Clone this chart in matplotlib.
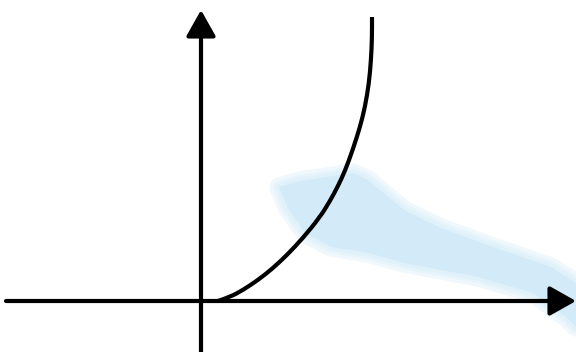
import matplotlib

matplotlib.use("Agg")
import matplotlib.pyplot as plt  # noqa: E402
from matplotlib.path import Path  # noqa: E402
from matplotlib.patches import PathPatch  # noqa: E402

# growth curve, origin at the axis crossing
curve_x = [0.17, 0.29, 0.42, 0.57, 0.71, 0.86, 1.02, 1.19, 1.29, 1.37,
           1.44, 1.52, 1.59, 1.64, 1.68, 1.70, 1.71, 1.71]
curve_y = [0.00, 0.04, 0.11, 0.21, 0.32, 0.46, 0.63, 0.84, 1.00, 1.15,
           1.30, 1.52, 1.74, 1.94, 2.18, 2.41, 2.63, 2.84]

# light blue brush stroke, upper and lower edges
band_top_x = [0.78, 0.99, 1.52, 1.67, 2.03, 2.40, 2.95, 3.50, 3.75]
band_top_y = [1.14, 1.20, 1.28, 1.21, 0.91, 0.73, 0.53, 0.34, 0.18]
band_bot_x = [0.86, 1.04, 1.30, 1.67, 2.03, 2.77, 3.32, 3.65, 3.75]
band_bot_y = [0.94, 0.68, 0.54, 0.48, 0.38, 0.24, 0.08, -0.16, -0.26]

x_range = (-2.01, 3.75)
y_range = (-0.51, 3.01)


def smooth_path(xs, ys):
    # quadratic segments through the midpoints, read points act as controls
    pts = list(zip(xs, ys))
    verts = [pts[0]]
    codes = [Path.MOVETO]
    for i in range(1, len(pts) - 1):
        mid = ((pts[i][0] + pts[i + 1][0]) / 2, (pts[i][1] + pts[i + 1][1]) / 2)
        verts += [pts[i], mid]
        codes += [Path.CURVE3, Path.CURVE3]
    verts.append(pts[-1])
    codes.append(Path.LINETO)
    return Path(verts, codes)


fig = plt.figure(figsize=(5.76, 3.52), dpi=100)
ax = fig.add_axes([0, 0, 1, 1])
ax.set_xlim(*x_range)
ax.set_ylim(*y_range)
ax.axis("off")

# soft-edged stroke: wide faint outlines under a solid fill
poly_x = band_top_x + band_bot_x[::-1]
poly_y = band_top_y + band_bot_y[::-1]
for width in (14, 9, 5):
    ax.fill(poly_x, poly_y, fc="none", ec="#d6edfa", lw=width, alpha=0.35,
            joinstyle="round", zorder=1)
ax.fill(poly_x, poly_y, color="#d3ebf9", lw=0, zorder=1)

arrow = dict(arrowstyle="-|>,head_length=0.8,head_width=0.45", mutation_scale=20,
             lw=3, color="black", shrinkA=0, shrinkB=0)
ax.annotate("", xy=(x_range[1], 0), xytext=(-1.95, 0), arrowprops=arrow, zorder=3)
ax.annotate("", xy=(0, 2.91), xytext=(0, y_range[0]), arrowprops=arrow, zorder=3)

ax.add_patch(PathPatch(smooth_path(curve_x, curve_y), fc="none", ec="black",
                       lw=3, capstyle="butt", zorder=2))

fig.savefig("out.png", dpi=100)
